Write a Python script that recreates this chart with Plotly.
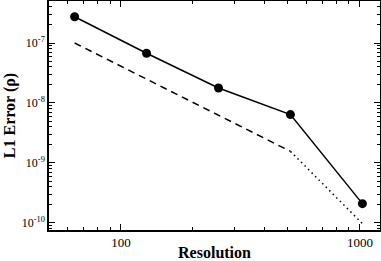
import numpy as np
import plotly.graph_objects as go

resolution = [64, 128, 256, 512, 1024]
l1_error = [2.74e-7, 6.75e-8, 1.78e-8, 6.4e-9, 2.1e-10]

ref2_x = [64, 512]
ref2_y = [1.0e-7, 1.5625e-9]
ref4_x = [512, 1024]
ref4_y = [1.5625e-9, 9.77e-11]

y_tickvals = [1e-10, 1e-9, 1e-8, 1e-7]
y_ticktext = ["10<sup>-10</sup>", "10<sup>-9</sup>", "10<sup>-8</sup>", "10<sup>-7</sup>"]
x_tickvals = [100, 1000]
x_ticktext = ["100", "1000"]

x_minor = [m * 10 ** e for e in (1, 2, 3) for m in range(2, 10)]
y_minor = [m * 10.0 ** e for e in (-11, -10, -9, -8, -7) for m in range(2, 10)]

fig = go.Figure()
fig.add_trace(go.Scatter(x=ref2_x, y=ref2_y, mode="lines",
                         line=dict(color="black", width=1.5, dash="7px,5px")))
fig.add_trace(go.Scatter(x=ref4_x, y=ref4_y, mode="lines",
                         line=dict(color="black", width=1.5, dash="1.5px,3.5px")))
fig.add_trace(go.Scatter(x=resolution, y=l1_error, mode="lines+markers",
                         line=dict(color="black", width=1.5),
                         marker=dict(color="black", size=9)))

font_family = "Liberation Serif, Times New Roman, serif"
axis_common = dict(
    type="log", showline=True, linecolor="black", linewidth=1.5, mirror="allticks",
    ticks="inside", ticklen=6, tickwidth=1, tickcolor="black", showgrid=False,
    zeroline=False, automargin=False,
)
fig.update_layout(
    width=381, height=261,
    margin=dict(l=49, r=1, t=1, b=31),
    paper_bgcolor="white", plot_bgcolor="white",
    showlegend=False,
    xaxis=dict(**axis_common, range=[np.log10(50.0), 3.084],
               tickmode="array", tickvals=x_tickvals, ticktext=x_ticktext,
               tickfont=dict(family=font_family, size=13, color="black"),
               minor=dict(tickmode="array", tickvals=x_minor, ticks="inside",
                          ticklen=3, tickwidth=1, tickcolor="black"),
               title=dict(text="<b>Resolution</b>", standoff=2,
                          font=dict(family=font_family, size=16, color="black"))),
    yaxis=dict(**axis_common, range=[-10.117, -6.3],
               tickmode="array", tickvals=y_tickvals, ticktext=y_ticktext,
               tickfont=dict(family=font_family, size=12, color="black"),
               minor=dict(tickmode="array", tickvals=y_minor, ticks="inside",
                          ticklen=3, tickwidth=1, tickcolor="black"),
               title=dict(text="<b>L1 Error (ρ)</b>", standoff=2,
                          font=dict(family=font_family, size=16, color="black"))),
)
fig.write_html("out.html", config={"displayModeBar": False},
               post_script="document.body.style.margin='0';")
